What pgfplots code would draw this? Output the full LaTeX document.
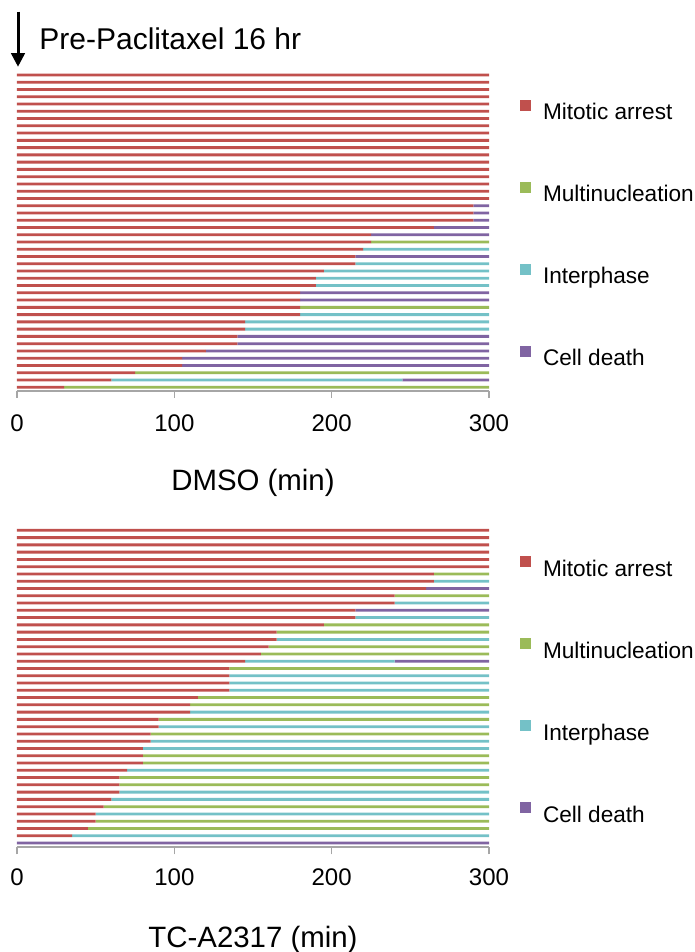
\documentclass[border=0pt]{standalone}
\usepackage{fontspec}
\setmainfont{Liberation Sans}
\usepackage{pgfplots}
\usepackage{pgfplotstable}
\pgfplotsset{compat=1.18}
\usetikzlibrary{arrows.meta}

\definecolor{cM}{HTML}{C0504D}
\definecolor{cMu}{HTML}{9BBB59}
\definecolor{cI}{HTML}{74C1C7}
\definecolor{cD}{HTML}{8064A2}
\definecolor{axgray}{HTML}{A6A6A6}

% one row per cell, y = 0 is the bottom bar; minutes spent in each fate
\pgfplotstableread{
y  M   Mu  I   D
43 300 0   0   0
42 300 0   0   0
41 300 0   0   0
40 300 0   0   0
39 300 0   0   0
38 300 0   0   0
37 300 0   0   0
36 300 0   0   0
35 300 0   0   0
34 300 0   0   0
33 300 0   0   0
32 300 0   0   0
31 300 0   0   0
30 300 0   0   0
29 300 0   0   0
28 300 0   0   0
27 300 0   0   0
26 300 0   0   0
25 290 0   0   10
24 290 0   0   10
23 290 0   0   10
22 265 0   0   35
21 225 0   0   75
20 225 75  0   0
19 220 0   80  0
18 215 0   0   85
17 215 0   85  0
16 195 0   105 0
15 190 0   110 0
14 190 0   110 0
13 180 0   0   120
12 180 0   0   120
11 180 120 0   0
10 180 0   120 0
9  145 0   155 0
8  145 0   155 0
7  140 0   0   160
6  140 0   0   160
5  120 0   0   180
4  105 0   0   195
3  105 0   0   195
2  75  225 0   0
1  60  0   185 55
0  30  270 0   0
}\dmso

\pgfplotstableread{
y  M   Mu  I   D
43 300 0   0   0
42 300 0   0   0
41 300 0   0   0
40 300 0   0   0
39 300 0   0   0
38 300 0   0   0
37 265 35  0   0
36 265 0   35  0
35 260 0   0   40
34 240 60  0   0
33 240 0   60  0
32 215 0   0   85
31 215 0   85  0
30 195 105 0   0
29 165 135 0   0
28 165 0   135 0
27 160 140 0   0
26 155 145 0   0
25 145 0   95  60
24 135 165 0   0
23 135 0   165 0
22 135 0   165 0
21 135 0   165 0
20 115 185 0   0
19 110 190 0   0
18 110 0   190 0
17 90  210 0   0
16 90  0   210 0
15 85  215 0   0
14 85  0   215 0
13 80  0   220 0
12 80  220 0   0
11 80  220 0   0
10 70  0   230 0
9  65  235 0   0
8  65  235 0   0
7  65  0   235 0
6  60  0   240 0
5  55  245 0   0
4  50  0   250 0
3  50  250 0   0
2  45  255 0   0
1  35  0   265 0
0  0   0   0   300
}\tca

\pgfplotsset{
  sqleg/.style={legend image code/.code={\fill[##1] (0pt,0.4pt) rectangle (5.5pt,5.9pt);}},
  fatebars/.style={
    xbar stacked,
    bar width=1.4pt,
    scale only axis,
    width=236pt,
    xmin=0, xmax=300,
    xtick={0,100,200,300},
    ytick=\empty,
    axis x line*=bottom,
    axis y line=none,
    x axis line style={axgray, line width=0.8pt},
    tick align=outside,
    major tick length=3.5pt,
    xtick style={axgray, line width=0.8pt},
    /pgf/number format/assume math mode=true,
    ticklabel style={font=\fontsize{12}{14}\selectfont},
    xticklabel style={anchor=base, yshift=-17pt},
    xlabel style={font=\fontsize{14.7}{17}\selectfont, at={(axis description cs:0.5,0)}, anchor=base, yshift=-50pt},
    legend cell align=left,
    legend style={draw=none, fill=none, anchor=north west,
      font=\fontsize{11.3}{13}\selectfont,
      row sep=31.1pt, column sep=5.8pt,
      nodes={inner sep=0pt, text height=8pt, text depth=0pt}},
  },
}

\begin{document}
\begin{tikzpicture}
\useasboundingbox (0,0) rectangle (347.5pt,476pt);

\begin{axis}[
  fatebars,
  at={(8.5pt,280.5pt)}, anchor=south west,
  height=159.8pt,
  ymin=-0.52, ymax=43.5,
  xlabel={DMSO (min)},
  legend style={at={(axis description cs:1.053,0.925)}},
]
\addplot[fill=cM, draw=none, sqleg] table[x=M, y=y] {\dmso};
\addplot[fill=cMu, draw=none, sqleg] table[x=Mu, y=y] {\dmso};
\addplot[fill=cI, draw=none, sqleg] table[x=I, y=y] {\dmso};
\addplot[fill=cD, draw=none, sqleg] table[x=D, y=y] {\dmso};
\legend{Mitotic arrest, Multinucleation, Interphase, Cell death}
\end{axis}

\begin{axis}[
  fatebars,
  at={(8.5pt,52.35pt)}, anchor=south west,
  height=160.3pt,
  ymin=-0.59, ymax=43.5,
  xlabel={TC-A2317 (min)},
  xticklabel style={yshift=1.5pt},
  legend style={at={(axis description cs:1.053,0.921)}},
]
\addplot[fill=cM, draw=none, sqleg] table[x=M, y=y] {\tca};
\addplot[fill=cMu, draw=none, sqleg] table[x=Mu, y=y] {\tca};
\addplot[fill=cI, draw=none, sqleg] table[x=I, y=y] {\tca};
\addplot[fill=cD, draw=none, sqleg] table[x=D, y=y] {\tca};
\legend{Mitotic arrest, Multinucleation, Interphase, Cell death}
\end{axis}

% treatment marker and heading
\draw[line width=1.5pt, -{Triangle[length=6.8pt, width=6.7pt]}] (9pt,470.2pt) -- (9pt,442.6pt);
\node[anchor=base west, inner sep=0pt, font=\fontsize{15}{18}\selectfont] at (19.5pt,451pt) {Pre-Paclitaxel 16 hr};
\end{tikzpicture}
\end{document}
